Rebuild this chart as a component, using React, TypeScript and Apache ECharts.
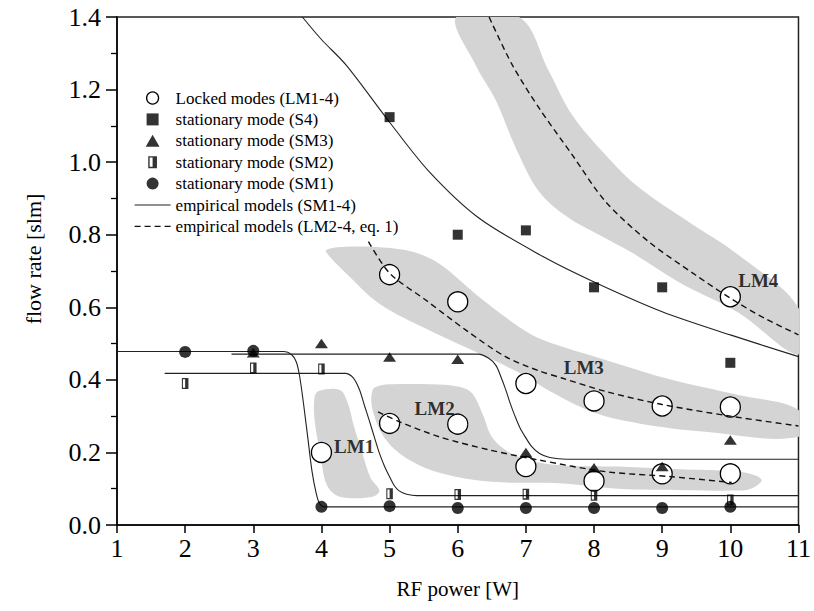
import React, { useEffect, useRef } from "react";
import * as echarts from "echarts";

// ---- measured data ----
const lockedModes = [
  [4, 0.2], [5, 0.69], [5, 0.28], [6, 0.615], [6, 0.278], [7, 0.39], [7, 0.161],
  [8, 0.342], [8, 0.121], [9, 0.328], [9, 0.141], [10, 0.629], [10, 0.325], [10, 0.141],
];
const stationaryS4 = [[5, 1.124], [6, 0.8], [7, 0.812], [8, 0.655], [9, 0.655], [10, 0.447]];
const stationarySM3 = [[3, 0.475], [4, 0.5], [5, 0.463], [6, 0.457], [7, 0.2], [8, 0.158], [9, 0.161], [10, 0.234]];
const stationarySM2 = [[2, 0.39], [3, 0.433], [4, 0.43], [5, 0.086], [6, 0.084], [7, 0.085], [8, 0.082], [10, 0.069]];
const stationarySM1 = [[2, 0.477], [3, 0.48], [4, 0.05], [5, 0.052], [6, 0.047], [7, 0.047], [8, 0.047], [9, 0.047], [10, 0.05]];

// empirical models, solid
const modelS4 = [[3.72, 1.4], [4.0, 1.338], [4.36, 1.268], [5.0, 1.11], [5.58, 0.974], [6.31, 0.846], [7.25, 0.74], [8.0, 0.67], [9.0, 0.588], [10.0, 0.524], [11, 0.464]];
const modelSM1 = [[1, 0.478], [3.45, 0.478], [3.56, 0.47], [3.63, 0.45], [3.68, 0.41], [3.74, 0.33], [3.8, 0.24], [3.86, 0.15], [3.92, 0.09], [3.97, 0.06], [4.05, 0.05], [11, 0.05]];
const modelSM2 = [[1.7, 0.418], [4.35, 0.418], [4.47, 0.405], [4.56, 0.372], [4.63, 0.33], [4.7, 0.289], [4.78, 0.24], [4.85, 0.198], [4.93, 0.16], [5.0, 0.133], [5.07, 0.108], [5.14, 0.094], [5.25, 0.085], [5.4, 0.081], [11, 0.081]];
const modelSM3 = [[2.68, 0.471], [6.3, 0.471], [6.45, 0.46], [6.56, 0.44], [6.63, 0.41], [6.7, 0.375], [6.77, 0.335], [6.84, 0.3], [6.92, 0.265], [7.0, 0.24], [7.09, 0.215], [7.2, 0.197], [7.35, 0.186], [7.6, 0.181], [11, 0.181]];
// empirical models, dashed (eq. 1)
const modelLM4 = [[6.46, 1.4], [6.8, 1.268], [7.19, 1.15], [7.68, 1.02], [8.17, 0.891], [8.8, 0.781], [9.49, 0.689], [10.0, 0.625], [10.5, 0.57], [11, 0.524]];
const modelLM3 = [[4.69, 0.781], [5.0, 0.694], [5.53, 0.62], [6.12, 0.537], [6.7, 0.464], [7.19, 0.425], [7.53, 0.405], [8.17, 0.368], [9.0, 0.332], [10.0, 0.3], [11, 0.273]];
const modelLM2 = [[4.83, 0.312], [5.14, 0.285], [5.73, 0.243], [6.46, 0.207], [7.19, 0.179], [8.17, 0.147], [9.14, 0.133], [10.02, 0.117]];

// shaded regions (outline points, data coordinates)
const bandLM1 = [[3.9, 0.354], [3.97, 0.37], [4.27, 0.372], [4.38, 0.34], [4.48, 0.27], [4.6, 0.198], [4.72, 0.13], [4.85, 0.095], [4.75, 0.078], [4.27, 0.078], [4.08, 0.11], [3.98, 0.2], [3.9, 0.289]];
const bandLM2 = [[4.75, 0.372], [4.85, 0.384], [5.04, 0.388], [5.6, 0.388], [6.02, 0.381], [6.21, 0.363], [6.36, 0.308], [6.5, 0.243], [6.7, 0.207], [7.0, 0.18], [7.5, 0.165], [8.36, 0.161], [9.34, 0.153], [10.07, 0.148], [10.38, 0.136], [10.46, 0.122], [10.3, 0.1], [10.12, 0.095], [9.34, 0.096], [8.36, 0.1], [7.49, 0.115], [6.5, 0.119], [5.77, 0.142], [5.29, 0.179], [4.95, 0.234], [4.75, 0.317]];
const bandLM3 = [[4.07, 0.758], [4.36, 0.767], [4.9, 0.765], [5.34, 0.753], [5.73, 0.72], [6.31, 0.629], [6.9, 0.546], [7.25, 0.51], [8.17, 0.455], [9.14, 0.4], [10.12, 0.358], [11, 0.317], [11, 0.243], [9.63, 0.257], [8.66, 0.28], [8.0, 0.31], [7.34, 0.37], [7.0, 0.41], [6.31, 0.473], [5.58, 0.537], [4.85, 0.61], [4.36, 0.694], [4.12, 0.74]];
const bandLM4 = [[5.98, 1.4], [6.9, 1.4], [7.34, 1.25], [7.68, 1.13], [8.17, 1.02], [8.66, 0.93], [9.39, 0.835], [10.12, 0.744], [11, 0.598], [11, 0.47], [10.12, 0.585], [9.24, 0.67], [8.56, 0.75], [8.07, 0.8], [7.6, 0.85], [7.19, 0.92], [6.85, 1.04], [6.56, 1.17], [6.27, 1.265]];

const regionLabels = [
  { name: "LM1", value: [4.48, 0.215] },
  { name: "LM2", value: [5.66, 0.322] },
  { name: "LM3", value: [7.85, 0.433] },
  { name: "LM4", value: [10.41, 0.675] },
];

const xTicks = { min: 1, max: 11, step: 1 };
const yTicks = { min: 0, max: 1.4, step: 0.2 };

const SERIF = '"Liberation Serif", "Times New Roman", serif';
const HALF_SQUARE = "path://M0,0H8V11H0Z M1.3,1.3V9.7H4V1.3Z";
const SQUARE = "path://M0,0H10V10H0Z";
const TRIANGLE = "path://M6,0L12,10.4L0,10.4Z";

const NAME_LOCKED = "Locked modes (LM1-4)";
const NAME_S4 = "stationary mode (S4)";
const NAME_SM3 = "stationary mode (SM3)";
const NAME_SM2 = "stationary mode (SM2)";
const NAME_SM1 = "stationary mode (SM1)";
const NAME_SOLID = "empirical models (SM1-4)";
const NAME_DASH = "empirical models (LM2-4, eq. 1)";

const bands = [bandLM1, bandLM2, bandLM3, bandLM4];

const HIDDEN = "rgba(0,0,0,0)";

export default function App() {
  const ref = useRef<HTMLDivElement>(null);
  useEffect(() => {
    if (!ref.current) return;
    const chart = echarts.init(ref.current, undefined, { renderer: "svg" });
    const solidLine = (data: number[][]) => ({
      type: "line",
      name: NAME_SOLID,
      data,
      symbol: "none",
      smooth: 0.3,
      z: 3,
      silent: true,
      itemStyle: { color: HIDDEN, borderColor: HIDDEN, borderWidth: 0 },
      lineStyle: { color: "#222", width: 1.1, type: "solid" },
    });
    const dashLine = (data: number[][]) => ({
      type: "line",
      name: NAME_DASH,
      data,
      symbol: "none",
      smooth: 0.3,
      z: 3,
      silent: true,
      itemStyle: { color: HIDDEN, borderColor: HIDDEN, borderWidth: 0 },
      lineStyle: { color: "#111", width: 1.4, type: [6, 4] },
    });
    const option: any = {
      animation: false,
      backgroundColor: "#fff",
      textStyle: { fontFamily: SERIF },
      grid: {
        left: 117,
        top: 17,
        right: 14,
        bottom: 86,
        show: true,
        borderColor: "#222",
        borderWidth: 1.5,
        backgroundColor: "transparent",
      },
      legend: {
        orient: "vertical",
        left: 129,
        top: 84,
        itemWidth: 36,
        itemHeight: 12,
        itemGap: 3.4,
        selectedMode: false,
        textStyle: { fontFamily: SERIF, fontSize: 17, color: "#000", lineHeight: 18 },
        lineStyle: { width: 1.2 },
        data: [
          { name: NAME_LOCKED, icon: "circle", itemStyle: { color: "#fff", borderColor: "#000", borderWidth: 1.3 } },
          { name: NAME_S4, icon: SQUARE, itemStyle: { color: "#000", borderWidth: 0 } },
          { name: NAME_SM3, icon: TRIANGLE, itemStyle: { color: "#000", borderWidth: 0 } },
          { name: NAME_SM2, icon: HALF_SQUARE, itemStyle: { color: "#000", borderWidth: 0 } },
          { name: NAME_SM1, icon: "circle", itemStyle: { color: "#000", borderWidth: 0 } },
          { name: NAME_SOLID, itemStyle: { color: HIDDEN, borderColor: HIDDEN, borderWidth: 0 } },
          { name: NAME_DASH, itemStyle: { color: HIDDEN, borderColor: HIDDEN, borderWidth: 0 } },
        ],
      },
      xAxis: {
        type: "value",
        min: xTicks.min,
        max: xTicks.max,
        interval: xTicks.step,
        name: "RF power [W]",
        nameLocation: "middle",
        nameGap: 53,
        nameTextStyle: { fontFamily: SERIF, fontSize: 21, color: "#000" },
        axisLine: { show: true, onZero: false, lineStyle: { color: "#000", width: 1.5 } },
        axisTick: { show: true, length: 8, inside: false, lineStyle: { color: "#000", width: 1.5 } },
        axisLabel: { color: "#000", fontFamily: SERIF, fontSize: 26, margin: 10 },
        splitLine: { show: false },
      },
      yAxis: {
        type: "value",
        min: yTicks.min,
        max: yTicks.max,
        interval: yTicks.step,
        name: "flow rate [slm]",
        nameLocation: "middle",
        nameGap: 73,
        nameTextStyle: { fontFamily: SERIF, fontSize: 22, color: "#000", padding: [0, 0, 0, 24] },
        axisLine: { show: true, onZero: false, lineStyle: { color: "#000", width: 1.5 } },
        axisTick: { show: true, length: 11, inside: false, lineStyle: { color: "#000", width: 1.5 } },
        minorTick: { show: true, splitNumber: 2, length: 6, lineStyle: { color: "#000", width: 1.3 } },
        axisLabel: {
          color: "#000",
          fontFamily: SERIF,
          fontSize: 26,
          margin: 16,
          formatter: (v: number) => v.toFixed(1),
        },
        splitLine: { show: false },
      },
      series: [
        {
          type: "custom",
          name: "regions",
          coordinateSystem: "cartesian2d",
          silent: true,
          clip: true,
          z: 1,
          data: bands.map((b) => b[0]),
          renderItem: (params: any, api: any) => {
            const pts = bands[params.dataIndex].map((p) => api.coord(p));
            return {
              type: "polygon",
              shape: { points: pts, smooth: 0.35 },
              style: { fill: "#d4d4d4", stroke: "none" },
            };
          },
        },
        {
          type: "scatter",
          name: NAME_LOCKED,
          data: lockedModes,
          symbol: "circle",
          symbolSize: 20,
          z: 2,
          itemStyle: { color: "#fff", borderColor: "#000", borderWidth: 1.3, opacity: 1 },
        },
        solidLine(modelS4),
        solidLine(modelSM1),
        solidLine(modelSM2),
        solidLine(modelSM3),
        dashLine(modelLM4),
        dashLine(modelLM3),
        dashLine(modelLM2),
        {
          type: "scatter",
          name: NAME_S4,
          data: stationaryS4,
          symbol: SQUARE,
          symbolSize: 10,
          symbolKeepAspect: true,
          z: 4,
          itemStyle: { color: "#000" },
        },
        {
          type: "scatter",
          name: NAME_SM3,
          data: stationarySM3,
          symbol: TRIANGLE,
          symbolSize: [13, 11],
          symbolKeepAspect: true,
          z: 4,
          itemStyle: { color: "#000" },
        },
        {
          type: "scatter",
          name: NAME_SM2,
          data: stationarySM2,
          symbol: HALF_SQUARE,
          symbolSize: [9, 11],
          symbolKeepAspect: true,
          z: 4,
          itemStyle: { color: "#000" },
        },
        {
          type: "scatter",
          name: NAME_SM1,
          data: stationarySM1,
          symbol: "circle",
          symbolSize: 12,
          z: 4,
          itemStyle: { color: "#000" },
        },
        {
          type: "scatter",
          name: "region labels",
          data: regionLabels,
          symbolSize: 0,
          silent: true,
          z: 5,
          label: {
            show: true,
            position: "inside",
            formatter: "{b}",
            fontFamily: SERIF,
            fontWeight: "bold",
            fontSize: 19,
            color: "#000",
          },
        },
      ],
    };
    chart.setOption(option);
    return () => chart.dispose();
  }, []);
  return (
    <div
      ref={ref}
      style={{ position: "fixed", left: 0, top: 0, width: 814, height: 611, background: "#fff" }}
    />
  );
}
